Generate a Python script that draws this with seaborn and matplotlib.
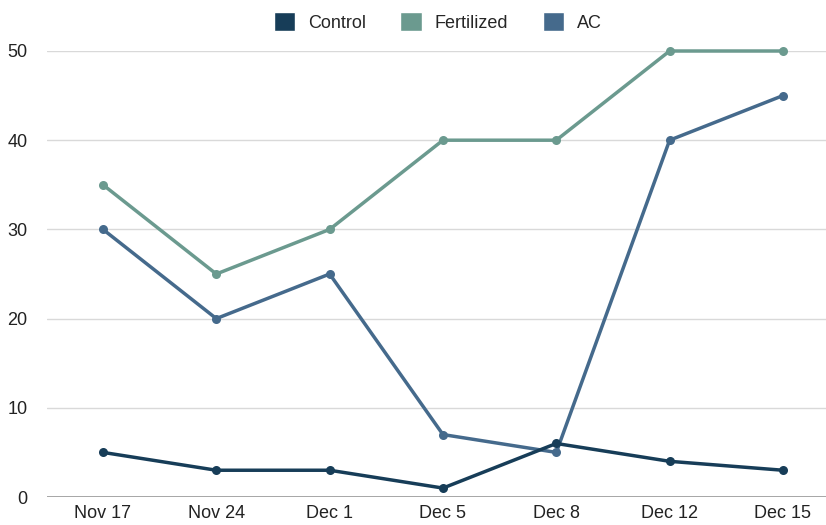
import pandas as pd
import matplotlib
matplotlib.use('Agg')
import matplotlib.pyplot as plt
import seaborn as sns
from matplotlib.patches import Patch

dates = ['Nov 17', 'Nov 24', 'Dec 1', 'Dec 5', 'Dec 8', 'Dec 12', 'Dec 15']
control = [5, 3, 3, 1, 6, 4, 3]
fertilized = [35, 25, 30, 40, 40, 50, 50]
ac = [30, 20, 25, 7, 5, 40, 45]

colors = {'Control': '#173d58', 'Fertilized': '#6b9a8f', 'AC': '#456a8c'}

df = pd.DataFrame({'date': dates * 3,
                   'value': control + fertilized + ac,
                   'group': ['Control'] * 7 + ['Fertilized'] * 7 + ['AC'] * 7})
df['pos'] = list(range(7)) * 3

sns.set_style('white')
plt.rcParams['font.family'] = ['Liberation Sans', 'DejaVu Sans']

fig = plt.figure(figsize=(8.26, 5.25), dpi=100)
ax = fig.add_axes([47 / 826, 1 - 497 / 525, 1 - 47 / 826, (497 - 51) / 525])

# draw AC first, Control last so it sits on top
sns.lineplot(data=df, x='pos', y='value', hue='group', hue_order=['AC', 'Fertilized', 'Control'],
             palette=colors, marker='o', markersize=6.5, markeredgewidth=0, linewidth=2.5,
             legend=False, ax=ax, zorder=3, clip_on=False)

ax.set_xlim(-0.494, 6.38)
ax.set_ylim(0, 50)
ax.set_yticks([0, 10, 20, 30, 40, 50])
ax.set_xticks(range(7))
ax.set_xticklabels(dates)
ax.grid(axis='y', color='#d9d9d9', linewidth=1)
ax.axhline(0, color='#999999', linewidth=1.2, zorder=2)
for s in ax.spines.values():
    s.set_visible(False)
ax.tick_params(axis='both', length=0, labelsize=13, colors='#222222')
ax.tick_params(axis='y', pad=14)
ax.tick_params(axis='x', pad=6)
ax.set_xlabel('')
ax.set_ylabel('')

handles = [Patch(facecolor=colors[k], label=k) for k in ['Control', 'Fertilized', 'AC']]
fig.legend(handles=handles, loc='center', bbox_to_anchor=(0.53, 0.958), ncol=3, frameon=False,
           fontsize=13, handlelength=1.2, handleheight=1.2, columnspacing=1.9, handletextpad=0.7)

fig.savefig('out.png', dpi=100)
